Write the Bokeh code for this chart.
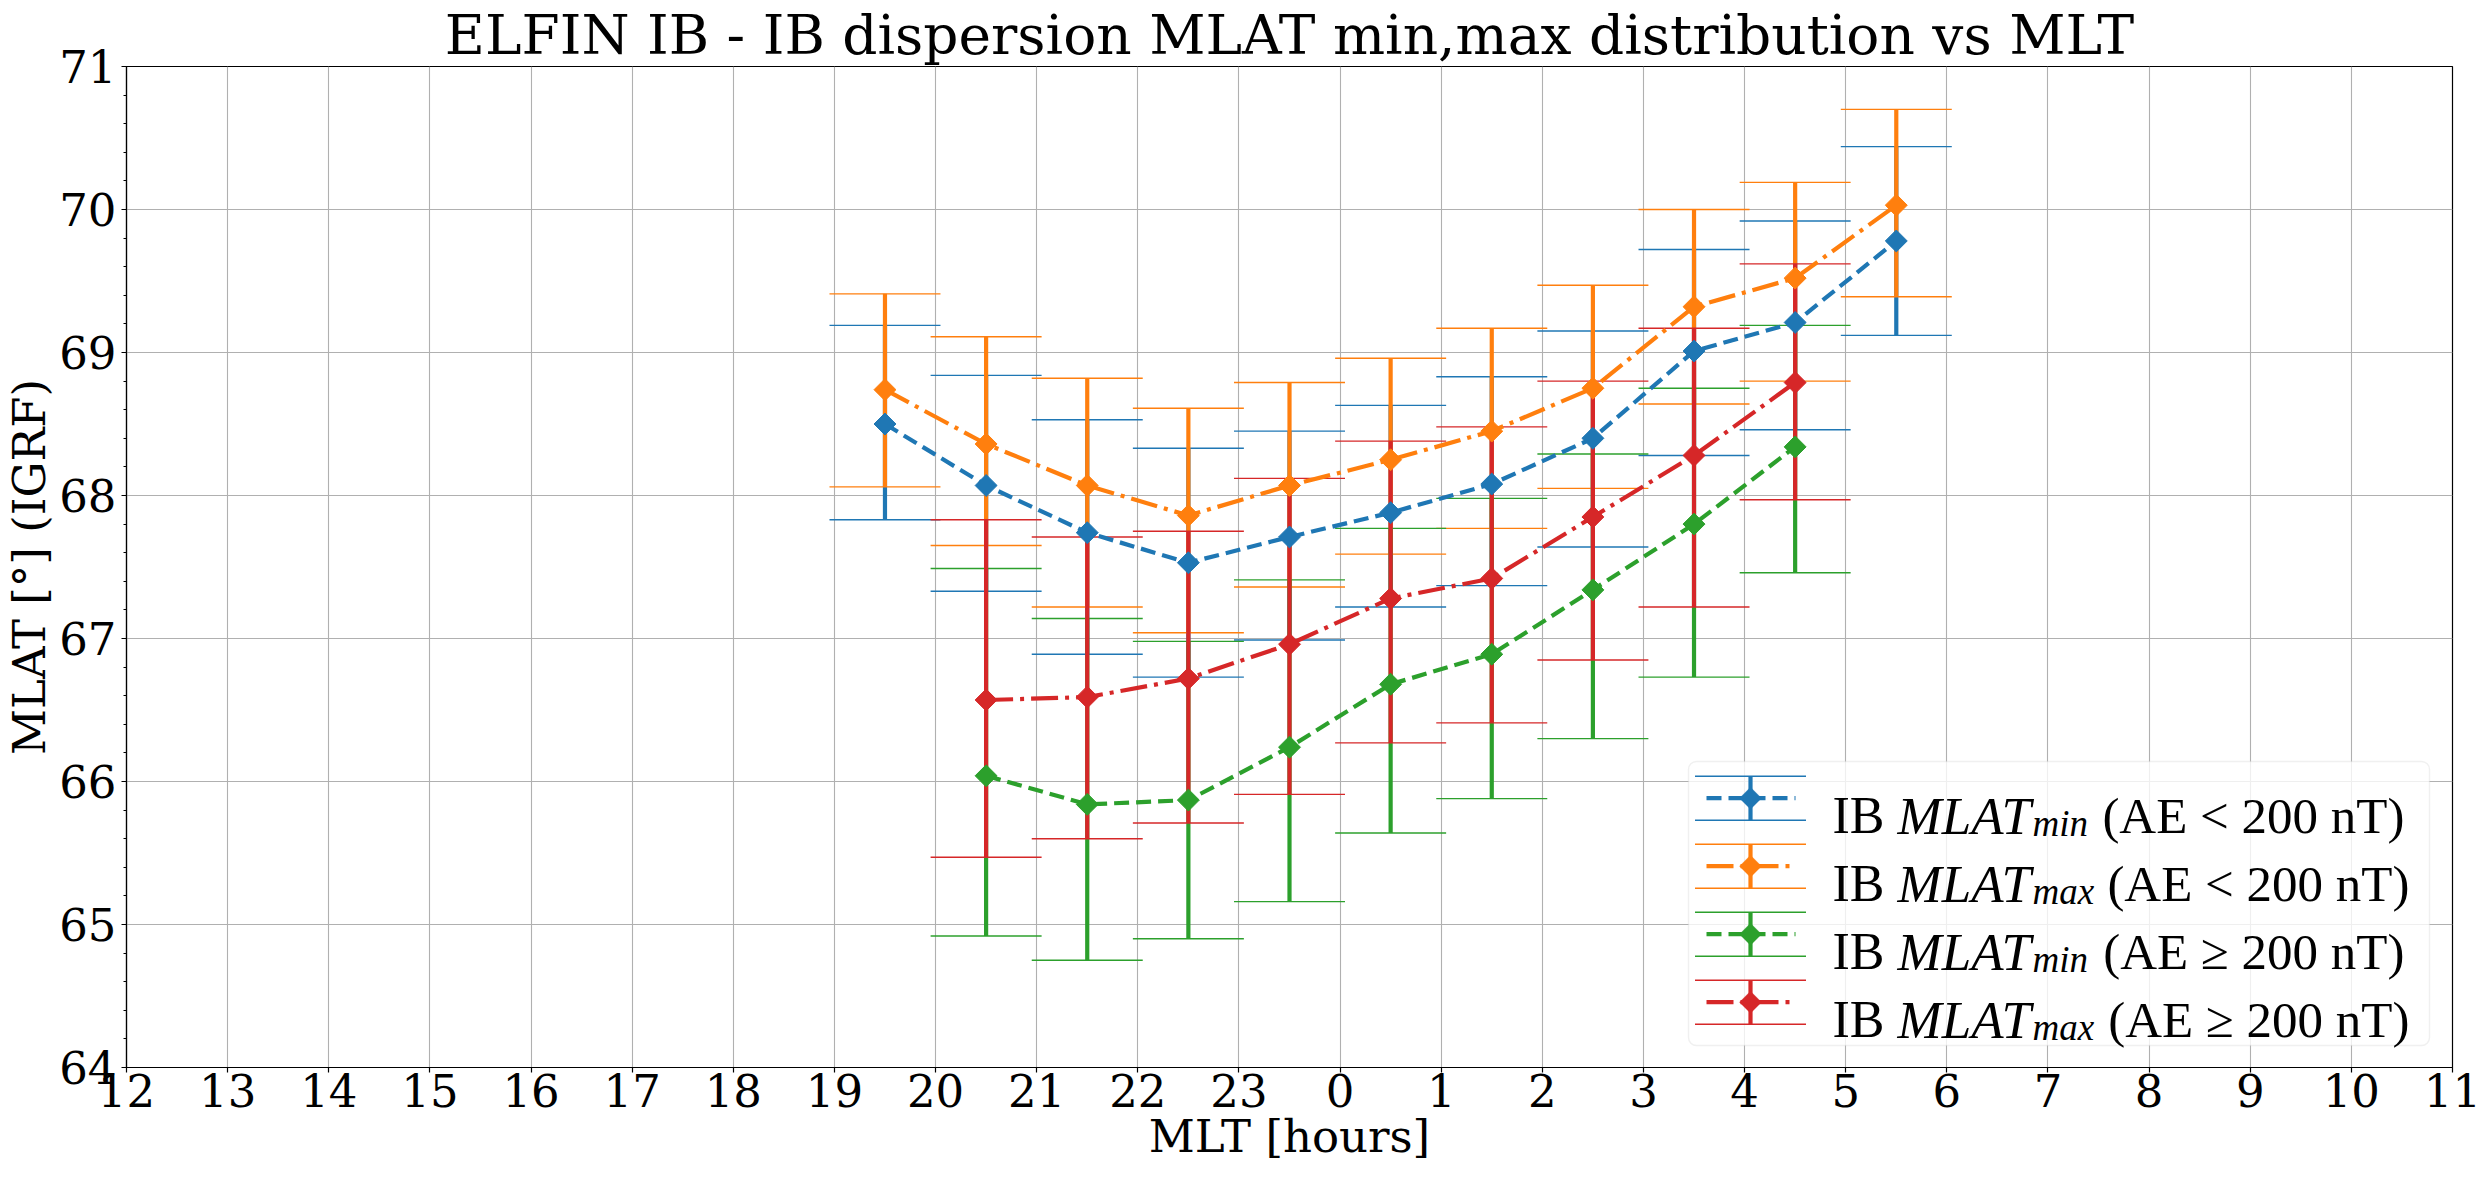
import math
from bokeh.plotting import figure
from bokeh.models import (ColumnDataSource, Whisker, TeeHead, FixedTicker,
                          SingleIntervalTicker, Range1d, BoxAnnotation, Arrow,
                          PolyAnnotation, Label)
from bokeh.embed import file_html
from bokeh.resources import INLINE

# ---------------- data ----------------
mlt_ticks = [12, 13, 14, 15, 16, 17, 18, 19, 20, 21, 22, 23,
             24, 25, 26, 27, 28, 29, 30, 31, 32, 33, 34, 35]
tick_labels = ["12", "13", "14", "15", "16", "17", "18", "19", "20", "21", "22", "23",
               "0", "1", "2", "3", "4", "5", "6", "7", "8", "9", "10", "11"]

mlt_quiet = [19.5, 20.5, 21.5, 22.5, 23.5, 0.5, 1.5, 2.5, 3.5, 4.5, 5.5]
mlt_active = [20.5, 21.5, 22.5, 23.5, 0.5, 1.5, 2.5, 3.5, 4.5]

min_quiet = [68.50, 68.07, 67.74, 67.53, 67.71, 67.88, 68.08, 68.40, 69.01, 69.21, 69.78]
min_quiet_hi = [69.19, 68.84, 68.53, 68.33, 68.45, 68.63, 68.83, 69.15, 69.72, 69.92, 70.44]
min_quiet_lo = [67.83, 67.33, 66.89, 66.73, 66.99, 67.22, 67.37, 67.64, 68.28, 68.46, 69.12]

max_quiet = [68.74, 68.36, 68.07, 67.86, 68.07, 68.25, 68.45, 68.75, 69.32, 69.52, 70.03]
max_quiet_hi = [69.41, 69.11, 68.82, 68.61, 68.79, 68.96, 69.17, 69.47, 70.00, 70.19, 70.70]
max_quiet_lo = [68.06, 67.65, 67.22, 67.04, 67.36, 67.59, 67.77, 68.05, 68.64, 68.80, 69.39]

min_active = [66.04, 65.84, 65.87, 66.24, 66.68, 66.89, 67.34, 67.80, 68.34]
min_active_hi = [67.49, 67.14, 66.98, 67.41, 67.77, 67.98, 68.29, 68.75, 69.19]
min_active_lo = [64.92, 64.75, 64.90, 65.16, 65.64, 65.88, 66.30, 66.73, 67.46]

max_active = [66.57, 66.59, 66.72, 66.96, 67.28, 67.42, 67.85, 68.28, 68.79]
max_active_hi = [67.83, 67.71, 67.75, 68.12, 68.38, 68.48, 68.80, 69.17, 69.62]
max_active_lo = [65.47, 65.60, 65.71, 65.91, 66.27, 66.41, 66.85, 67.22, 67.97]

series_names = ["min", "max", "min", "max"]
series_cond = ["(AE < 200 nT)", "(AE < 200 nT)", "(AE \u2265 200 nT)", "(AE \u2265 200 nT)"]

title_text = "ELFIN IB - IB dispersion MLAT min,max distribution vs MLT"
xlabel_text = "MLT [hours]"
ylabel_text = "MLAT [\u00b0] (IGRF)"

# ---------------- styles ----------------
colors = ["#1f77b4", "#ff7f0e", "#2ca02c", "#d62728"]
dashes = ["15 7", "27 7 4 7", "15 7", "27 7 4 7"]
LW = 4.2
SERIF = "DejaVu Serif"
LEG_FONT = "Liberation Serif"


def unwrap(h):
    return [v + 24 if v < 12 else v for v in h]


series = [
    (unwrap(mlt_quiet), min_quiet, min_quiet_lo, min_quiet_hi),
    (unwrap(mlt_quiet), max_quiet, max_quiet_lo, max_quiet_hi),
    (unwrap(mlt_active), min_active, min_active_lo, min_active_hi),
    (unwrap(mlt_active), max_active, max_active_lo, max_active_hi),
]

p = figure(frame_width=2326, frame_height=1001, output_backend="svg", toolbar_location=None,
           x_range=Range1d(12, 35), y_range=Range1d(64, 71),
           min_border_left=119, min_border_right=29, min_border_top=60, min_border_bottom=100,
           title=title_text)

p.title.text_font = SERIF
p.title.text_font_size = "55px"
p.title.text_font_style = "normal"
p.title.text_color = "black"
p.title.align = "center"
p.title.standoff = 0

p.outline_line_color = "black"
p.outline_line_width = 1.2
p.background_fill_color = "white"
p.border_fill_color = "white"

# axes
p.xaxis.ticker = FixedTicker(ticks=mlt_ticks)
p.xaxis.major_label_overrides = {t: lab for t, lab in zip(mlt_ticks, tick_labels)}
p.yaxis.ticker = SingleIntervalTicker(interval=1, num_minor_ticks=5)
p.xaxis.axis_label = xlabel_text
p.yaxis.axis_label = ylabel_text
for ax in (p.xaxis[0], p.yaxis[0]):
    ax.axis_label_text_font = SERIF
    ax.axis_label_text_font_size = "45px"
    ax.axis_label_text_font_style = "normal"
    ax.axis_label_text_color = "black"
    ax.major_label_text_font = SERIF
    ax.major_label_text_font_size = "45px"
    ax.major_label_text_color = "black"
    ax.axis_line_color = "black"
    ax.axis_line_width = 1.2
    ax.major_tick_line_color = "black"
    ax.major_tick_line_width = 1.2
    ax.major_tick_out = 5
    ax.major_tick_in = 0
    ax.minor_tick_line_color = "black"
    ax.minor_tick_line_width = 1.0
    ax.minor_tick_out = 3
    ax.minor_tick_in = 0
p.xaxis.minor_tick_line_color = None
p.yaxis.major_label_standoff = 5
p.yaxis.axis_label_standoff = 0
p.xaxis.major_label_standoff = 1
p.xaxis.axis_label_standoff = 0

p.xgrid.ticker = FixedTicker(ticks=mlt_ticks)
p.grid.grid_line_color = "#b0b0b0"
p.grid.grid_line_width = 1.1
p.grid.grid_line_alpha = 1.0

# error bars first (below all data lines, like matplotlib)
sources = []
for (x, mid, lo, hi), c in zip(series, colors):
    src = ColumnDataSource(dict(x=x, mid=mid, lo=lo, hi=hi))
    sources.append(src)
    w = Whisker(source=src, base="x", upper="hi", lower="lo", dimension="height",
                line_color=c, line_width=LW, level="underlay",
                upper_head=TeeHead(size=111, line_color=c, line_width=1.4),
                lower_head=TeeHead(size=111, line_color=c, line_width=1.4))
    p.add_layout(w)

for src, c, d in zip(sources, colors, dashes):
    p.line("x", "mid", source=src, line_color=c, line_width=LW, line_dash=d)
    p.scatter("x", "mid", source=src, marker="square", angle=math.pi / 4, size=15.5,
              fill_color=c, line_color=c, line_width=1)

# ---------------- legend (screen units, relative to the frame) ----------------
L_LEFT, L_RIGHT, L_BOTTOM, L_TOP = 1562, 2303, 22, 306
p.add_layout(BoxAnnotation(left=L_LEFT, right=L_RIGHT, bottom=L_BOTTOM, top=L_TOP,
                           left_units="screen", right_units="screen",
                           bottom_units="screen", top_units="screen",
                           fill_color="white", fill_alpha=0.8,
                           line_color="#cccccc", line_width=1.4, border_radius=8))
for i, (c, d, nm, cond) in enumerate(zip(colors, dashes, series_names, series_cond)):
    cy = 269.3 - 68 * i
    xc = 1624
    for yy in (cy - 22, cy + 22):
        p.add_layout(Arrow(x_start=xc - 55.5, y_start=yy, x_end=xc + 55.5, y_end=yy,
                           start_units="screen", end_units="screen", end=None,
                           line_color=c, line_width=1.4))
    p.add_layout(Arrow(x_start=xc, y_start=cy - 22, x_end=xc, y_end=cy + 22,
                       start_units="screen", end_units="screen", end=None,
                       line_color=c, line_width=LW))
    p.add_layout(Arrow(x_start=1580, y_start=cy, x_end=1669, y_end=cy,
                       start_units="screen", end_units="screen", end=None,
                       line_color=c, line_width=LW, line_dash=d))
    p.add_layout(PolyAnnotation(xs=[xc - 11, xc, xc + 11, xc], ys=[cy, cy + 11, cy, cy - 11],
                                xs_units="screen", ys_units="screen",
                                fill_color=c, fill_alpha=1.0, line_color=c, line_width=1))
    base = cy - 17.3
    p.add_layout(Label(x=1706, y=base, x_units="screen", y_units="screen", text="IB",
                       text_font=LEG_FONT, text_font_size="52px", text_color="black",
                       text_align="left", text_baseline="alphabetic"))
    p.add_layout(Label(x=1771, y=base, x_units="screen", y_units="screen", text="MLAT",
                       text_font=LEG_FONT, text_font_size="53px", text_font_style="italic",
                       text_color="black", text_align="left", text_baseline="alphabetic"))
    p.add_layout(Label(x=1906, y=base - 8, x_units="screen", y_units="screen", text=nm,
                       text_font=LEG_FONT, text_font_size="37px", text_font_style="italic",
                       text_color="black", text_align="left", text_baseline="alphabetic"))
    p.add_layout(Label(x=2278 if nm == "min" else 2283, y=base, x_units="screen",
                       y_units="screen", text=cond,
                       text_font=LEG_FONT, text_font_size="51px", text_color="black",
                       text_align="right", text_baseline="alphabetic"))

open("out.html", "w").write(file_html(p, INLINE))
